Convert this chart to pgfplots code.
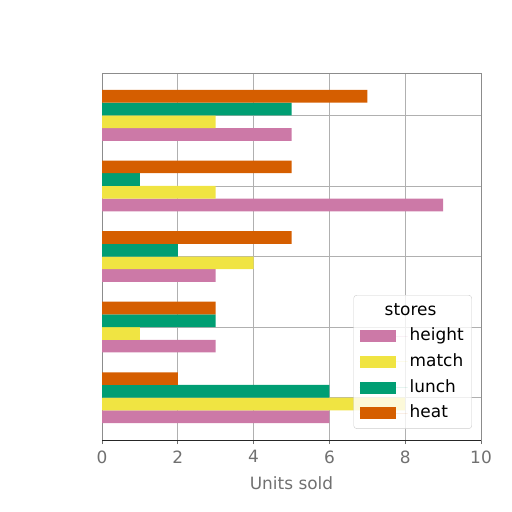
\documentclass[border=0pt]{standalone}
\usepackage{pgfplots}
\pgfplotsset{compat=1.18}
\usepackage{fontspec}
\setmainfont{DejaVu Sans}
\definecolor{cheight}{HTML}{CC79A7}
\definecolor{cmatch}{HTML}{F0E442}
\definecolor{clunch}{HTML}{009E73}
\definecolor{cheat}{HTML}{D55E00}
\definecolor{gridc}{HTML}{B0B0B0}
\definecolor{tickc}{HTML}{707070}
\newcommand{\lbl}{\fontsize{17}{20}\selectfont}
\begin{document}
\begin{tikzpicture}
\path[use as bounding box] (0,0) rectangle (512bp,-512bp);
\begin{axis}[
    at={(102bp,-440bp)}, anchor=south west,
    width=379bp, height=367bp, scale only axis,
    xbar, bar width=0.18,
    xmin=0, xmax=10, ymin=-0.6, ymax=4.6,
    xtick={0,2,...,10}, ytick={0,1,2,3,4}, yticklabels={},
    xtick pos=bottom,
    grid=major, grid style={gridc, line width=0.8pt},
    axis line style={black!45, line width=0.8pt},
    tick align=outside, major tick length=4bp,
    xtick style={tickc, line width=0.8pt},
    ytick style={draw=none},
    /pgf/number format/assume math mode=true,
    ticklabel style={font=\lbl, text=tickc},
    xticklabel style={yshift=-3bp},
    xlabel={Units sold}, xlabel style={font=\lbl, text=tickc, yshift=-6bp},
    legend cell align=left,
    legend style={at={(0.976,0.395)}, anchor=north east, font=\lbl,
        draw=black!20, rounded corners=3bp, fill=white, fill opacity=0.8, text opacity=1,
        inner xsep=6bp, inner ysep=5bp, row sep=4.6bp,
        nodes={inner sep=2bp, text height=13bp, text depth=4bp}},
    legend image code/.code={
        \fill[#1, draw=none, fill opacity=1, sharp corners] (0bp,-6bp) rectangle (36bp,6bp);
        \path (0bp,0bp) -- (48bp,0bp);},
]
\addlegendimage{empty legend}
\addlegendentry{\hspace*{-25bp}stores}
\addplot[fill=cheight, draw=none, bar shift=-0.27] coordinates {(6,0) (3,1) (3,2) (9,3) (5,4)};
\addlegendentry{height}
\addplot[fill=cmatch, draw=none, bar shift=-0.09] coordinates {(8,0) (1,1) (4,2) (3,3) (3,4)};
\addlegendentry{match}
\addplot[fill=clunch, draw=none, bar shift=0.09] coordinates {(6,0) (3,1) (2,2) (1,3) (5,4)};
\addlegendentry{lunch}
\addplot[fill=cheat, draw=none, bar shift=0.27] coordinates {(2,0) (3,1) (5,2) (5,3) (7,4)};
\addlegendentry{heat}
\draw[black!85, line width=0.9pt] (rel axis cs:0,0) -- (rel axis cs:1,0);
\end{axis}
\end{tikzpicture}
\end{document}
